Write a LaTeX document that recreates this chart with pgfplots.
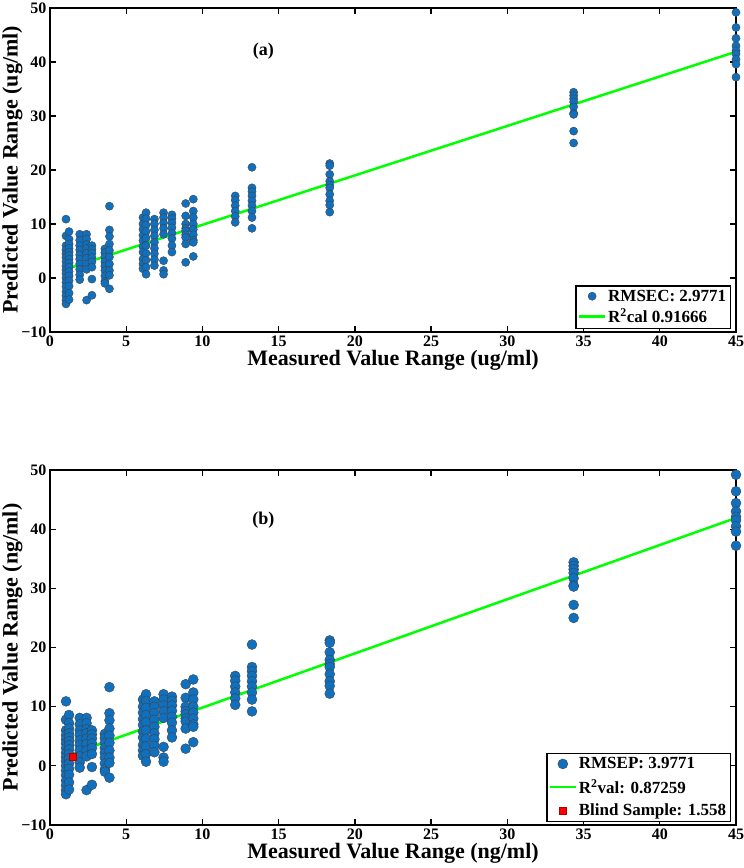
\documentclass[border=0pt]{standalone}
\usepackage{pgfplots}
\pgfplotsset{compat=1.18}
\usepackage{pgfplotstable}
\usepackage{fontspec}
\setmainfont{Liberation Serif}
\definecolor{mblue}{RGB}{16,112,190}
\definecolor{mgreen}{RGB}{0,255,0}

\pgfplotstableread{
x y
1.05 10.9
1.05 7.8
1.05 6.0
1.05 5.2
1.05 4.5
1.05 3.8
1.05 3.0
1.05 2.2
1.05 1.5
1.05 0.8
1.05 0.0
1.05 -0.8
1.05 -1.6
1.05 -2.5
1.05 -3.3
1.05 -4.1
1.05 -4.8
1.25 8.6
1.25 7.2
1.25 6.3
1.25 5.5
1.25 4.8
1.25 4.2
1.25 3.5
1.25 2.8
1.25 2.0
1.25 1.2
1.25 0.4
1.25 -0.5
1.25 -1.5
1.25 -2.8
1.25 -4.0
1.95 8.1
1.95 7.0
1.95 6.0
1.95 5.2
1.95 4.3
1.95 3.5
1.95 2.6
1.95 1.6
1.95 0.6
1.95 -0.3
2.4 8.1
2.4 7.2
2.4 6.2
2.4 5.5
2.4 4.6
2.4 3.7
2.4 2.6
2.4 1.6
2.4 -4.1
2.75 6.0
2.75 5.3
2.75 4.6
2.75 3.8
2.75 3.0
2.75 2.0
2.75 -0.2
2.75 -3.2
3.6 5.4
3.6 4.7
3.6 3.9
3.6 3.0
3.6 2.2
3.6 1.4
3.6 0.4
3.6 -0.6
3.6 -1.0
3.9 13.3
3.9 8.9
3.9 7.7
3.9 6.3
3.9 5.1
3.9 3.9
3.9 2.6
3.9 1.4
3.9 0.5
3.9 -2.0
6.1 11.2
6.1 10.0
6.1 9.0
6.1 7.9
6.1 6.9
6.1 5.8
6.1 4.8
6.1 3.5
6.1 2.6
6.1 1.7
6.3 12.1
6.3 11.0
6.3 9.8
6.3 8.6
6.3 7.4
6.3 6.0
6.3 4.6
6.3 3.3
6.3 2.0
6.3 0.7
6.85 10.9
6.85 10.0
6.85 8.9
6.85 7.8
6.85 6.6
6.85 5.5
6.85 4.5
6.85 3.4
6.85 2.3
7.45 12.1
7.45 11.2
7.45 10.2
7.45 9.2
7.45 8.1
7.45 3.2
7.45 1.4
7.45 0.7
8.0 11.7
8.0 11.0
8.0 10.2
8.0 9.3
8.0 8.3
8.0 7.3
8.0 6.0
8.0 4.8
8.9 13.8
8.9 11.5
8.9 10.0
8.9 9.2
8.9 8.7
8.9 8.0
8.9 7.5
8.9 6.3
8.9 2.9
9.4 14.6
9.4 12.4
9.4 11.2
9.4 10.0
9.4 9.0
9.4 8.0
9.4 7.0
9.4 6.6
9.4 4.0
12.15 15.2
12.15 14.4
12.15 13.4
12.15 12.4
12.15 11.4
12.15 10.3
13.25 20.5
13.25 16.7
13.25 16.0
13.25 15.2
13.25 14.3
13.25 13.4
13.25 12.4
13.25 11.2
13.25 9.2
18.35 21.2
18.35 20.8
18.35 19.2
18.35 17.9
18.35 17.2
18.35 16.7
18.35 15.5
18.35 14.3
18.35 13.5
18.35 12.2
34.35 34.4
34.35 33.8
34.35 33.2
34.35 32.6
34.35 31.7
34.35 30.5
34.35 30.3
34.35 27.2
34.35 25.0
45 49.2
45 46.4
45 44.4
45 43.0
45 42.1
45 41.5
45 40.5
45 39.6
45 37.2
}\pts

\pgfplotsset{
  myax/.style={
    scale only axis, width=686pt,
    xmin=0, xmax=45, ymin=-10, ymax=50,
    xtick={0,5,...,45}, ytick={-10,0,10,20,30,40,50},
    yticklabels={−10,0,10,20,30,40,50},
    tick align=inside, major tick length=6pt,
    axis line style={line width=1.6pt},
    every tick/.style={black, line width=1.3pt},
    tick label style={font=\bfseries\fontsize{16}{16}\selectfont},
    label style={font=\bfseries\fontsize{22}{24}\selectfont},
    ylabel shift=-8pt, xlabel shift=-3pt,
    /pgf/number format/assume math mode=true,
    legend cell align=left,
    legend image code/.code={\draw[mark repeat=2,mark phase=2,##1] plot coordinates {(0cm,0cm) (0.45cm,0cm) (0.9cm,0cm)};},
    legend style={at={(1,0)}, anchor=south east, xshift=-5pt, yshift=3pt,
      draw=black, line width=1.5pt, font=\bfseries\fontsize{17}{19}\selectfont,
      inner sep=2pt},
  }
}

\begin{document}
\begin{tikzpicture}
\path[use as bounding box] (-50pt,-536pt) rectangle (694pt,332pt);
\begin{axis}[myax, name=top, at={(0pt,0pt)}, anchor=south west, height=324pt,
  legend style={row sep=2pt},
  xlabel={Measured Value Range (ug/ml)},
  ylabel={Predicted Value Range (ug/ml)}]
\addplot[only marks, mark=*, mark size=4.1pt, mark options={fill=mblue, draw=black!75, line width=0.35pt}] table[x=x,y=y] {\pts};
\addlegendentry{RMSEC: 2.9771}
\addplot[mgreen, line width=2.5pt] coordinates {(1,1.6) (45,41.9)};
\addlegendentry{R\textsuperscript{2}cal 0.91666}
\node[font=\bfseries\fontsize{18}{20}\selectfont] at (axis cs:14,42) {(a)};
\end{axis}
\begin{axis}[myax, name=bot, at={(0pt,-138pt)}, anchor=north west, height=355pt,
  legend style={row sep=5pt},
  xlabel={Measured Value Range (ng/ml)},
  ylabel={Predicted Value Range (ng/ml)}]
\addplot[only marks, mark=*, mark size=5pt, mark options={fill=mblue, draw=black!75, line width=0.35pt}] table[x=x,y=y] {\pts};
\addlegendentry{RMSEP: 3.9771}
\addplot[mgreen, line width=2.5pt] coordinates {(1,1.6) (45,41.9)};
\addlegendentry{R\textsuperscript{2}val: 0.87259}
\addplot[only marks, mark=square*, mark size=3.6pt, mark options={fill=red, draw=red!70!black, line width=0.3pt}] coordinates {(1.5,1.6)};
\addlegendentry{Blind Sample: 1.558}
\node[font=\bfseries\fontsize{18}{20}\selectfont] at (axis cs:14,41.5) {(b)};
\end{axis}
\end{tikzpicture}
\end{document}
